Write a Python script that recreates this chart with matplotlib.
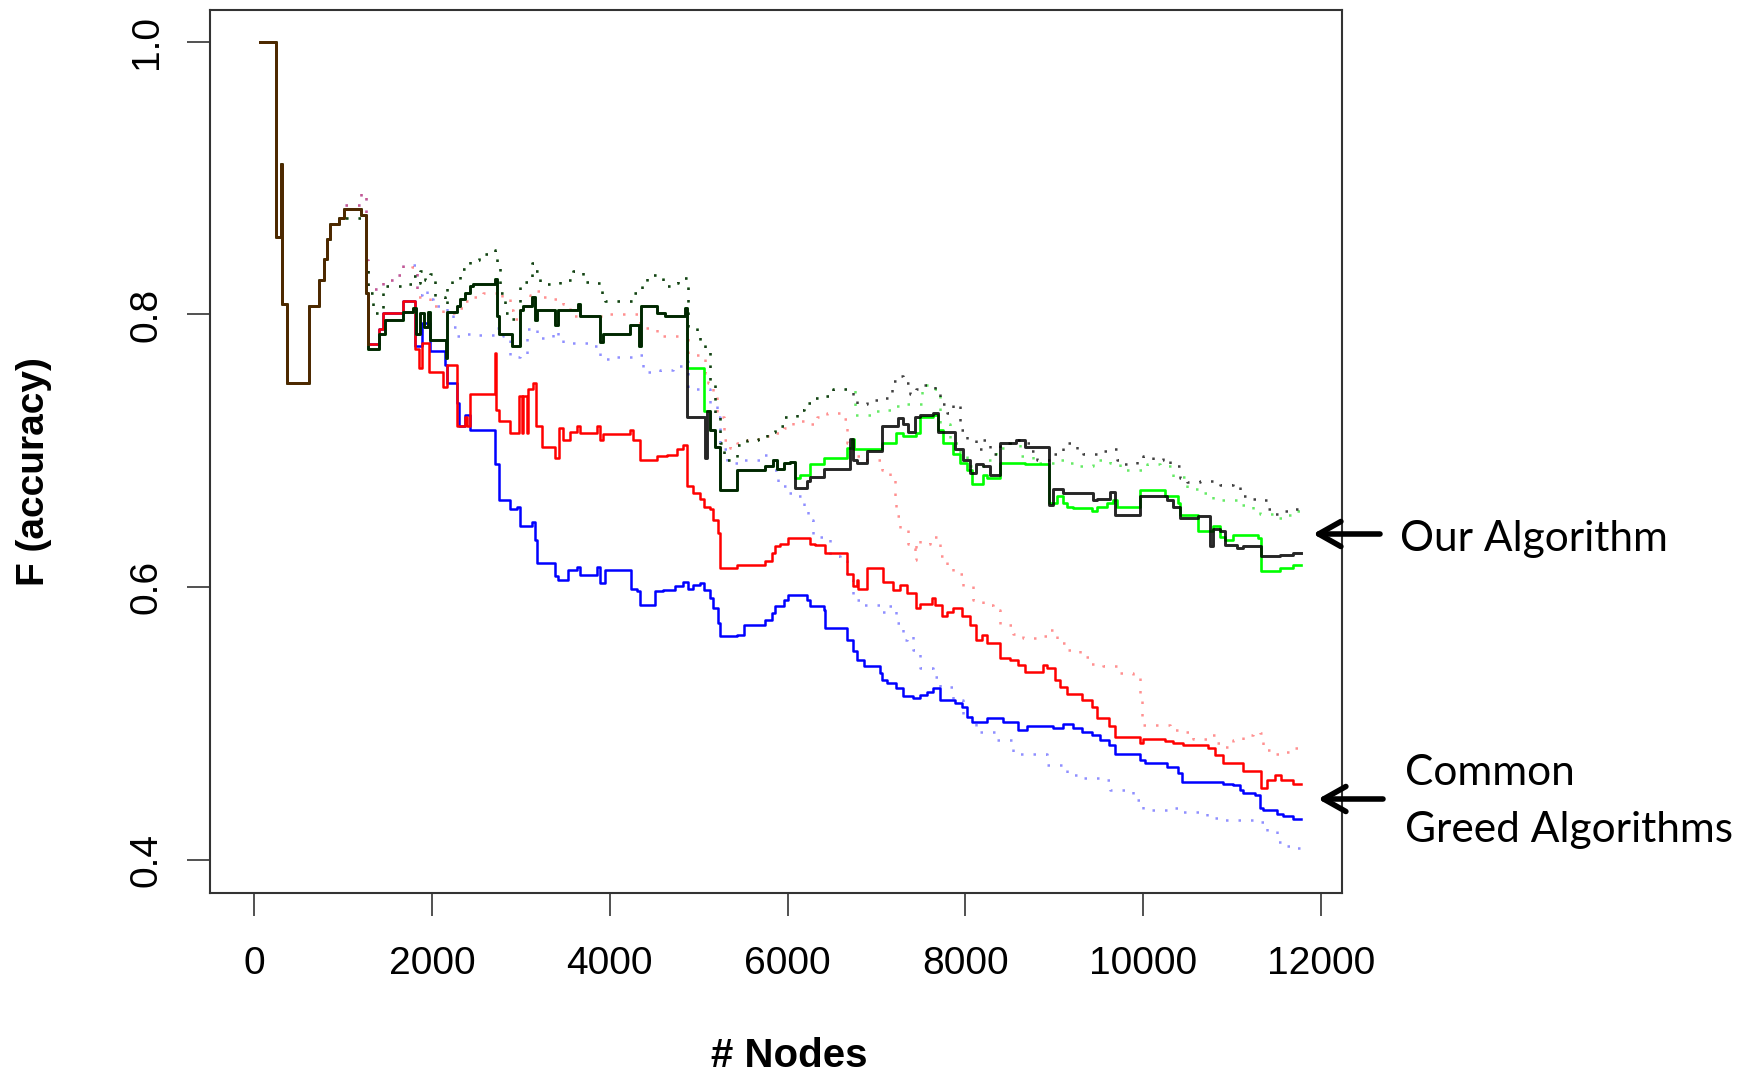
import matplotlib.pyplot as plt

# F (accuracy) vs number of nodes; step curves
# every curve starts with the same stretch
start = [(70, 1.000), (250, 0.857), (300, 0.910), (315, 0.808), (370, 0.750),
         (620, 0.806), (735, 0.825), (790, 0.841), (820, 0.855), (860, 0.866),
         (960, 0.871), (1010, 0.877), (1205, 0.873), (1260, 0.816)]

# solid curves
ours_head = [(1285, 0.775), (1400, 0.786), (1475, 0.796), (1680, 0.802), (1790, 0.805),
             (1820, 0.786), (1865, 0.801), (1910, 0.791), (1960, 0.802), (1980, 0.781),
             (2160, 0.768), (2175, 0.802), (2280, 0.806), (2315, 0.811), (2375, 0.816),
             (2430, 0.821), (2465, 0.822), (2710, 0.826), (2730, 0.799), (2750, 0.786),
             (2900, 0.777), (2990, 0.803), (3030, 0.806), (3125, 0.813), (3160, 0.796),
             (3180, 0.803), (3385, 0.792), (3420, 0.803), (3645, 0.808), (3665, 0.799),
             (3890, 0.780), (3930, 0.786), (4230, 0.792), (4335, 0.777), (4350, 0.806),
             (4530, 0.801), (4620, 0.799), (4845, 0.805)]
black_tail = [(4865, 0.725), (5070, 0.695), (5090, 0.729), (5130, 0.715), (5185, 0.703),
              (5240, 0.671), (5430, 0.686), (5745, 0.689), (5840, 0.693), (5880, 0.687),
              (5955, 0.691), (6030, 0.692), (6085, 0.673), (6215, 0.678), (6255, 0.681),
              (6405, 0.687), (6705, 0.709), (6740, 0.693), (6780, 0.691), (6890, 0.700),
              (7060, 0.718), (7245, 0.724), (7300, 0.720), (7360, 0.714), (7435, 0.725),
              (7490, 0.726), (7640, 0.728), (7695, 0.714), (7885, 0.701), (7975, 0.693),
              (8050, 0.684), (8125, 0.690), (8200, 0.689), (8275, 0.682), (8390, 0.706),
              (8575, 0.708), (8670, 0.703), (8935, 0.660), (8990, 0.672), (9100, 0.669),
              (9440, 0.664), (9475, 0.665), (9625, 0.670), (9685, 0.653), (9965, 0.667),
              (10265, 0.664), (10340, 0.659), (10415, 0.651), (10620, 0.652), (10750, 0.630),
              (10790, 0.643), (10865, 0.641), (10920, 0.631), (11050, 0.629), (11125, 0.630),
              (11330, 0.623), (11540, 0.624), (11690, 0.625), (11780, 0.625)]
green_tail = [(4865, 0.761), (5055, 0.729), (5130, 0.715), (5185, 0.703), (5240, 0.671),
              (5430, 0.686), (5745, 0.689), (5840, 0.693), (5880, 0.687), (5955, 0.691),
              (6030, 0.692), (6085, 0.680), (6140, 0.682), (6255, 0.690), (6405, 0.695),
              (6665, 0.702), (6720, 0.709), (6750, 0.701), (7060, 0.706), (7225, 0.713),
              (7300, 0.711), (7450, 0.713), (7490, 0.725), (7640, 0.726), (7695, 0.715),
              (7750, 0.706), (7865, 0.698), (7940, 0.691), (8015, 0.686), (8070, 0.676),
              (8200, 0.682), (8240, 0.680), (8390, 0.691), (8670, 0.690), (8935, 0.662),
              (9025, 0.667), (9100, 0.662), (9140, 0.659), (9215, 0.658), (9420, 0.656),
              (9475, 0.659), (9590, 0.662), (9665, 0.664), (9700, 0.659), (9965, 0.671),
              (10245, 0.667), (10395, 0.662), (10415, 0.653), (10620, 0.641), (10790, 0.645),
              (10865, 0.637), (10920, 0.635), (11015, 0.638), (11295, 0.636), (11330, 0.612),
              (11540, 0.614), (11690, 0.616), (11780, 0.616)]

greedy_head = [(1285, 0.778), (1400, 0.789), (1455, 0.801), (1680, 0.810)]
red_tail = [(1810, 0.775), (1850, 0.761), (1885, 0.779), (1970, 0.758), (2130, 0.747),
            (2165, 0.763), (2280, 0.718), (2375, 0.725), (2400, 0.718), (2430, 0.742),
            (2710, 0.772), (2720, 0.730), (2750, 0.722), (2880, 0.713), (2985, 0.740),
            (3010, 0.713), (3030, 0.740), (3065, 0.713), (3085, 0.745), (3140, 0.750),
            (3170, 0.718), (3235, 0.703), (3385, 0.695), (3435, 0.717), (3480, 0.708),
            (3555, 0.714), (3630, 0.718), (3665, 0.713), (3855, 0.718), (3890, 0.708),
            (3930, 0.712), (4230, 0.715), (4265, 0.708), (4340, 0.693), (4530, 0.696),
            (4640, 0.697), (4755, 0.701), (4830, 0.704), (4865, 0.674), (4940, 0.669),
            (5015, 0.665), (5055, 0.659), (5130, 0.657), (5165, 0.649), (5220, 0.640),
            (5240, 0.614), (5430, 0.616), (5745, 0.619), (5820, 0.625), (5860, 0.630),
            (5915, 0.632), (6010, 0.636), (6255, 0.632), (6310, 0.631), (6420, 0.625),
            (6665, 0.610), (6740, 0.601), (6780, 0.605), (6795, 0.599), (6890, 0.614),
            (7075, 0.604), (7190, 0.598), (7265, 0.602), (7340, 0.596), (7450, 0.585),
            (7490, 0.588), (7620, 0.592), (7660, 0.587), (7735, 0.579), (7790, 0.582),
            (7865, 0.585), (7960, 0.579), (8050, 0.572), (8125, 0.561), (8185, 0.565),
            (8240, 0.559), (8390, 0.548), (8500, 0.547), (8595, 0.543), (8670, 0.538),
            (8875, 0.543), (8915, 0.541), (9010, 0.532), (9065, 0.527), (9140, 0.522),
            (9310, 0.517), (9420, 0.512), (9475, 0.504), (9610, 0.498), (9685, 0.490),
            (9965, 0.486), (10000, 0.489), (10245, 0.487), (10340, 0.486), (10450, 0.484),
            (10730, 0.482), (10805, 0.477), (10900, 0.471), (11125, 0.465), (11330, 0.453),
            (11390, 0.459), (11480, 0.462), (11555, 0.459), (11690, 0.456), (11780, 0.456)]
blue_tail = [(1810, 0.777), (1885, 0.794), (1980, 0.773), (2150, 0.763), (2165, 0.750),
             (2280, 0.735), (2300, 0.718), (2375, 0.726), (2430, 0.715), (2710, 0.690),
             (2750, 0.664), (2880, 0.657), (2955, 0.659), (2990, 0.645), (3125, 0.648),
             (3160, 0.635), (3180, 0.618), (3385, 0.608), (3420, 0.605), (3535, 0.613),
             (3630, 0.615), (3665, 0.609), (3855, 0.615), (3890, 0.603), (3945, 0.613),
             (4245, 0.599), (4305, 0.597), (4340, 0.587), (4510, 0.597), (4605, 0.598),
             (4735, 0.601), (4830, 0.604), (4885, 0.599), (4940, 0.602), (5015, 0.603),
             (5055, 0.598), (5130, 0.592), (5165, 0.585), (5220, 0.574), (5240, 0.564),
             (5430, 0.565), (5505, 0.572), (5745, 0.576), (5820, 0.581), (5860, 0.586),
             (5955, 0.591), (6010, 0.594), (6215, 0.591), (6255, 0.586), (6405, 0.583),
             (6420, 0.570), (6665, 0.561), (6740, 0.553), (6780, 0.547), (6855, 0.542),
             (7040, 0.537), (7060, 0.532), (7115, 0.530), (7225, 0.526), (7300, 0.520),
             (7415, 0.519), (7490, 0.521), (7565, 0.523), (7640, 0.526), (7715, 0.517),
             (7885, 0.515), (7960, 0.512), (8015, 0.505), (8070, 0.501), (8240, 0.504),
             (8425, 0.501), (8595, 0.495), (8690, 0.498), (8990, 0.497), (9100, 0.500),
             (9215, 0.497), (9310, 0.494), (9420, 0.492), (9515, 0.488), (9610, 0.484),
             (9685, 0.478), (9965, 0.473), (10020, 0.471), (10265, 0.468), (10395, 0.464),
             (10435, 0.457), (10900, 0.456), (11015, 0.455), (11090, 0.451), (11125, 0.449),
             (11255, 0.448), (11315, 0.438), (11350, 0.437), (11500, 0.434), (11575, 0.432),
             (11690, 0.430), (11780, 0.430)]

# dotted curves
ours_dot_head = [(1010, 0.871), (1260, 0.835), (1285, 0.816), (1340, 0.801), (1400, 0.805),
                 (1455, 0.821), (1680, 0.822), (1775, 0.828), (1830, 0.823), (1865, 0.832),
                 (1925, 0.825), (1980, 0.830), (2035, 0.813), (2150, 0.807), (2165, 0.821),
                 (2225, 0.825), (2315, 0.833), (2430, 0.840), (2525, 0.844), (2710, 0.847),
                 (2730, 0.838), (2765, 0.816), (2825, 0.801), (2900, 0.797), (2990, 0.824),
                 (3125, 0.838), (3160, 0.832), (3215, 0.822), (3440, 0.825), (3590, 0.832),
                 (3705, 0.824), (3795, 0.823), (3910, 0.814), (3945, 0.810), (4265, 0.816),
                 (4320, 0.818), (4360, 0.824), (4415, 0.829), (4605, 0.821), (4680, 0.823),
                 (4770, 0.825), (4830, 0.827), (4885, 0.791), (4980, 0.784), (5015, 0.778),
                 (5070, 0.774), (5130, 0.752), (5185, 0.728), (5240, 0.706), (5280, 0.693),
                 (5430, 0.704), (5540, 0.708), (5670, 0.709), (5765, 0.714), (5860, 0.718),
                 (5955, 0.725), (6105, 0.730), (6180, 0.735), (6290, 0.739), (6405, 0.740),
                 (6515, 0.745), (6665, 0.745)]
black_dot_tail = [(6740, 0.739), (6780, 0.734), (6890, 0.737), (7040, 0.739), (7170, 0.751),
                  (7245, 0.755), (7300, 0.750), (7375, 0.742), (7450, 0.745), (7510, 0.748),
                  (7660, 0.745), (7715, 0.734), (7790, 0.728), (7865, 0.734), (7940, 0.715),
                  (8015, 0.708), (8125, 0.701), (8200, 0.708), (8275, 0.698), (8390, 0.706),
                  (8500, 0.708), (8615, 0.706), (8725, 0.700), (8800, 0.693), (8990, 0.698),
                  (9100, 0.706), (9250, 0.701), (9325, 0.698), (9550, 0.700), (9665, 0.701),
                  (9700, 0.693), (9760, 0.690), (9925, 0.693), (10000, 0.696), (10115, 0.693),
                  (10225, 0.695), (10300, 0.689), (10415, 0.680), (10490, 0.677), (10640, 0.678),
                  (10865, 0.675), (11015, 0.676), (11090, 0.667), (11200, 0.665), (11295, 0.664),
                  (11390, 0.657), (11465, 0.654), (11575, 0.656), (11705, 0.657), (11760, 0.657)]
green_dot_tail = [(6760, 0.726), (6965, 0.729), (7075, 0.730), (7190, 0.733), (7300, 0.734),
                  (7510, 0.748), (7660, 0.745), (7715, 0.720), (7825, 0.706), (7940, 0.696),
                  (8015, 0.689), (8240, 0.693), (8350, 0.702), (8500, 0.706), (8615, 0.696),
                  (8765, 0.691), (9025, 0.693), (9140, 0.691), (9290, 0.689), (9440, 0.693),
                  (9625, 0.691), (9740, 0.686), (10040, 0.690), (10190, 0.689), (10340, 0.681),
                  (10490, 0.672), (10640, 0.669), (10790, 0.664), (11090, 0.660), (11240, 0.657),
                  (11315, 0.654), (11465, 0.651), (11575, 0.653), (11725, 0.656), (11760, 0.656)]

greedy_dot_head = [(1010, 0.880), (1205, 0.889), (1260, 0.840), (1285, 0.819),
                   (1455, 0.825), (1565, 0.829), (1680, 0.836)]
red_dot_tail = [(1775, 0.835), (1830, 0.813), (1980, 0.806), (2130, 0.801), (2280, 0.805),
                (2355, 0.810), (2430, 0.813), (2580, 0.816), (2730, 0.817), (2785, 0.812),
                (2880, 0.803), (2915, 0.797), (2990, 0.806), (3105, 0.814), (3180, 0.817),
                (3255, 0.813), (3365, 0.811), (3480, 0.808), (3555, 0.799), (3930, 0.800),
                (4340, 0.790), (4530, 0.785), (4605, 0.784), (4770, 0.786), (4865, 0.788),
                (4885, 0.770), (5035, 0.768), (5070, 0.757), (5110, 0.750), (5165, 0.740),
                (5205, 0.725), (5280, 0.708), (5355, 0.702), (5430, 0.706), (5540, 0.709),
                (5690, 0.711), (5840, 0.713), (5955, 0.717), (6065, 0.722), (6180, 0.720),
                (6330, 0.725), (6440, 0.728), (6555, 0.728), (6630, 0.723), (6665, 0.706),
                (6740, 0.696), (6815, 0.693), (6930, 0.693), (7060, 0.686), (7150, 0.681),
                (7210, 0.667), (7225, 0.652), (7265, 0.642), (7360, 0.632), (7435, 0.620),
                (7450, 0.635), (7490, 0.632), (7600, 0.637), (7640, 0.637), (7715, 0.623),
                (7790, 0.615), (7865, 0.610), (7975, 0.601), (8090, 0.591), (8200, 0.587),
                (8315, 0.583), (8390, 0.572), (8540, 0.566), (8650, 0.563), (8800, 0.564),
                (8915, 0.569), (9025, 0.559), (9140, 0.554), (9290, 0.549), (9400, 0.544),
                (9550, 0.542), (9700, 0.537), (9890, 0.535), (9965, 0.520), (9985, 0.499),
                (10300, 0.495), (10450, 0.494), (10565, 0.489), (10715, 0.492), (10825, 0.486),
                (10920, 0.483), (11015, 0.488), (11125, 0.492), (11240, 0.494), (11315, 0.493),
                (11350, 0.481), (11465, 0.478), (11575, 0.479), (11690, 0.482), (11760, 0.482)]
blue_dot_tail = [(1830, 0.814), (1885, 0.818), (1940, 0.811), (2015, 0.806), (2165, 0.800),
                 (2240, 0.791), (2280, 0.784), (2315, 0.786), (2430, 0.785), (2730, 0.790),
                 (2805, 0.784), (2880, 0.769), (2990, 0.770), (3065, 0.789), (3125, 0.790),
                 (3180, 0.783), (3365, 0.788), (3420, 0.783), (3480, 0.779), (3780, 0.777),
                 (3890, 0.767), (4040, 0.769), (4305, 0.770), (4380, 0.758), (4565, 0.759),
                 (4715, 0.762), (4810, 0.766), (4885, 0.745), (5055, 0.745), (5130, 0.735),
                 (5205, 0.725), (5240, 0.701), (5315, 0.691), (5505, 0.693), (5730, 0.697),
                 (5840, 0.686), (5895, 0.674), (5990, 0.669), (6085, 0.667), (6180, 0.659),
                 (6235, 0.649), (6290, 0.637), (6480, 0.623), (6590, 0.620), (6665, 0.605),
                 (6740, 0.591), (6815, 0.587), (7040, 0.582), (7115, 0.586), (7225, 0.574),
                 (7300, 0.561), (7340, 0.564), (7415, 0.554), (7490, 0.541), (7640, 0.534),
                 (7715, 0.527), (7865, 0.517), (7975, 0.505), (8125, 0.494), (8350, 0.488),
                 (8540, 0.478), (8915, 0.470), (9140, 0.462), (9250, 0.460), (9515, 0.459),
                 (9625, 0.451), (9890, 0.444), (10000, 0.437), (10340, 0.438), (10450, 0.435),
                 (10715, 0.431), (10865, 0.429), (11275, 0.428), (11390, 0.421), (11500, 0.413),
                 (11615, 0.410), (11725, 0.409), (11760, 0.409)]

xticks = [0, 2000, 4000, 6000, 8000, 10000, 12000]
yticks = [0.4, 0.6, 0.8, 1.0]

W, H = 1751, 1077
plt.rcParams['font.family'] = ['Liberation Sans', 'DejaVu Sans']

fig = plt.figure(figsize=(W / 100, H / 100), dpi=100)
ax = fig.add_axes([210 / W, (H - 892.5) / H, (1341.5 - 210) / W, (892.5 - 10) / H])


def steps(pts, **kw):
    x, y = zip(*pts)
    ax.step(x, y, where='post', **kw)


dot = (0, (1, 4))
start_dot = [p for p in start if p[0] < 1010]
steps(start_dot + greedy_dot_head + blue_dot_tail, color='#3333ff', lw=1.8, ls=dot, alpha=0.55)
steps(start_dot + greedy_dot_head + red_dot_tail, color='#ff2222', lw=1.8, ls=dot, alpha=0.5)
steps(start_dot + ours_dot_head + green_dot_tail, color='#00dd00', lw=1.8, ls=dot, alpha=0.6)
steps(start_dot + ours_dot_head + black_dot_tail, color='#000000', lw=1.8, ls=dot, alpha=0.75)

steps(start + greedy_head + blue_tail, color='#0000ff', lw=1.8)
steps(start + greedy_head + red_tail, color='#ff0000', lw=1.8)
steps(start + ours_head + green_tail, color='#00ff00', lw=1.9)
steps(start + ours_head + black_tail, color='#000000', lw=2.1, alpha=0.85)
# the shared opening stretch shows as a brownish blend of all curves
steps(start + greedy_head[:1], color='#ff3300', lw=2.1, alpha=0.3)

ax.set_xlim(-495, 12230)
ax.set_ylim(0.3762, 1.0232)
ax.set_xticks(xticks)
ax.set_xticklabels([str(t) for t in xticks])
ax.set_yticks(yticks)
ax.set_yticklabels(['%.1f' % t for t in yticks], rotation=90, va='center')
ax.tick_params(direction='out', length=16.5, width=1.1, labelsize=28, color='#222222')
ax.tick_params(axis='x', pad=22)
ax.tick_params(axis='y', pad=16)
for s in ax.spines.values():
    s.set_linewidth(1.5)
    s.set_color('#333333')

fig.text(789 / W, (H - 1056) / H, '# Nodes', ha='center', va='center',
         fontsize=29, fontweight='bold')
fig.text(34 / W, (H - 472) / H, 'F (accuracy)', ha='center', va='center',
         rotation=90, fontsize=28, fontweight='bold')

# annotations on the right
note_font = dict(family=['Lato', 'DejaVu Sans'], fontsize=30.5, va='baseline', ha='left')
fig.text(1400 / W, (H - 550.7) / H, 'Our Algorithm', **note_font)
fig.text(1405 / W, (H - 785) / H, 'Common', **note_font)
fig.text(1405 / W, (H - 842) / H, 'Greed Algorithms', **note_font)
arrow = dict(arrowstyle='->,head_length=0.8,head_width=0.45', lw=4, color='black',
             mutation_scale=20, shrinkA=0, shrinkB=0)
fig.add_artist(plt.Annotation('', xy=(1313 / W, (H - 534) / H), xycoords='figure fraction',
                              xytext=(1380 / W, (H - 534) / H), arrowprops=arrow))
fig.add_artist(plt.Annotation('', xy=(1318 / W, (H - 799) / H), xycoords='figure fraction',
                              xytext=(1383 / W, (H - 799) / H), arrowprops=arrow))

fig.savefig('out.png', dpi=100)
